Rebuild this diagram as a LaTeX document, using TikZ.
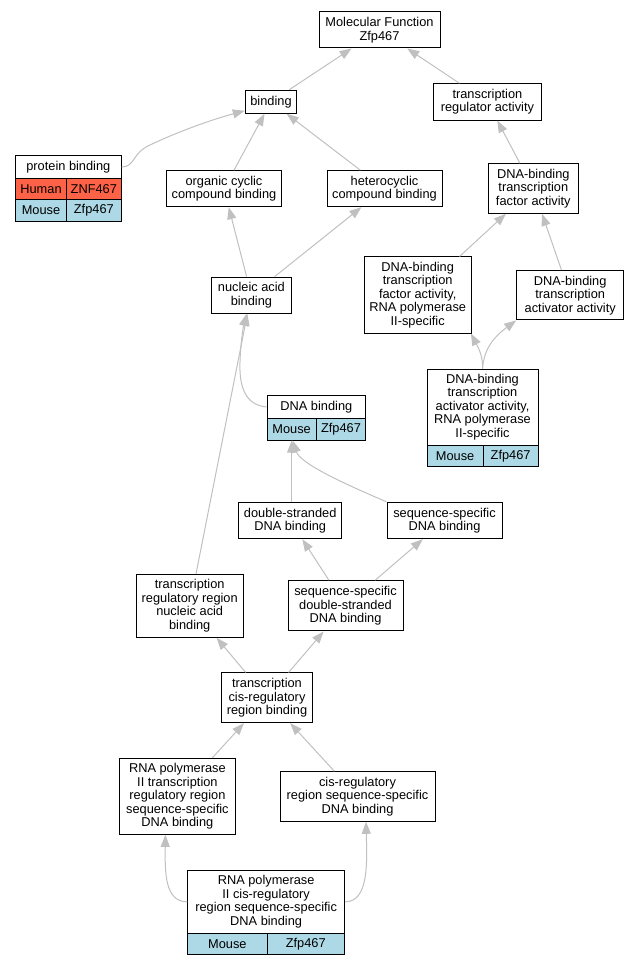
\documentclass[tikz,border=0pt]{standalone}
\usepackage{fontspec}
\setmainfont{Liberation Sans}
\usetikzlibrary{arrows.meta,calc}
\definecolor{edgegray}{RGB}{192,192,192}
\definecolor{humanred}{RGB}{255,99,71}
\definecolor{mouseblue}{RGB}{173,216,230}
\begin{document}
\begin{tikzpicture}[x=1pt,y=-1pt,
  box/.style={draw=black, line width=1pt, fill=white, inner sep=0pt, align=center, font=\fontsize{12.8}{13.5}\selectfont},
  cellh/.style={box, fill=humanred},
  cellm/.style={box, fill=mouseblue},
  edge/.style={draw=edgegray, line width=1pt, -{Triangle[length=12pt,width=9pt,fill=edgegray]}}]
\useasboundingbox (0,0) rectangle (639,965);

% nodes
\node[box, minimum width=121pt, minimum height=36pt] (mf) at (379.5,30) {Molecular Function\\Zfp467};
\node[box, minimum width=51.4pt, minimum height=23pt] (bind) at (271,101.8) {binding};
\node[box, minimum width=107.7pt, minimum height=36.3pt] (tra) at (487.4,101.9) {transcription\\regulator activity};

\node[box, minimum width=105.7pt, minimum height=22.6pt] (pb) at (68.35,167) {protein binding};
\node[cellh, minimum width=51pt, minimum height=21.5pt] (pbh1) at (41,189.05) {Human};
\node[cellh, minimum width=54.7pt, minimum height=21.5pt] (pbh2) at (93.85,189.05) {ZNF467};
\node[cellm, minimum width=51pt, minimum height=21.5pt] (pbm1) at (41,210.55) {Mouse};
\node[cellm, minimum width=54.7pt, minimum height=21.5pt] (pbm2) at (93.85,210.55) {Zfp467};

\node[box, minimum width=115pt, minimum height=36pt] (occ) at (224,188.7) {organic cyclic\\compound binding};
\node[box, minimum width=115pt, minimum height=36pt] (hcc) at (384.5,188.7) {heterocyclic\\compound binding};
\node[box, minimum width=89.4pt, minimum height=49.6pt] (dtf) at (533.3,188.5) {DNA-binding\\transcription\\factor activity};
\node[box, minimum width=79.2pt, minimum height=36.3pt] (nab) at (251.4,295.2) {nucleic acid\\binding};
\node[box, minimum width=107.4pt, minimum height=76pt] (dtf2) at (417.7,295) {DNA-binding\\transcription\\factor activity,\\RNA polymerase\\II-specific};
\node[box, minimum width=107pt, minimum height=49.3pt] (dta) at (570.2,295.3) {DNA-binding\\transcription\\activator activity};

\node[box, minimum width=98.7pt, minimum height=22.6pt] (dbh) at (316.35,407) {DNA binding};
\node[cellm, minimum width=49.3pt, minimum height=21.7pt] (dbm1) at (291.65,429.15) {Mouse};
\node[cellm, minimum width=49.4pt, minimum height=21.7pt] (dbm2) at (341,429.15) {Zfp467};

\node[box, minimum width=111pt, minimum height=76pt] (ata) at (482.5,407) {DNA-binding\\transcription\\activator activity,\\RNA polymerase\\II-specific};
\node[cellm, minimum width=56.3pt, minimum height=21.7pt] (atam1) at (455.15,455.85) {Mouse};
\node[cellm, minimum width=54.7pt, minimum height=21.7pt] (atam2) at (510.65,455.85) {Zfp467};

\node[box, minimum width=102.8pt, minimum height=36.4pt] (dsb) at (290.2,520.5) {double-stranded\\DNA binding};
\node[box, minimum width=115pt, minimum height=36.4pt] (ssb) at (444.5,520.5) {sequence-specific\\DNA binding};
\node[box, minimum width=107.3pt, minimum height=63pt] (trr) at (189.7,605.8) {transcription\\regulatory region\\nucleic acid\\binding};
\node[box, minimum width=115pt, minimum height=50.3pt] (ssd) at (345.5,605.8) {sequence-specific\\double-stranded\\DNA binding};
\node[box, minimum width=91.5pt, minimum height=49.7pt] (tcr) at (267,697.8) {transcription\\cis-regulatory\\region binding};
\node[box, minimum width=115.5pt, minimum height=76pt] (r2t) at (177.4,796.3) {RNA polymerase\\II transcription\\regulatory region\\sequence-specific\\DNA binding};
\node[box, minimum width=155pt, minimum height=49.6pt] (crs) at (357.5,796.5) {cis-regulatory\\region sequence-specific\\DNA binding};

\node[box, minimum width=156.7pt, minimum height=63pt] (bth) at (266.15,901.8) {RNA polymerase\\II cis-regulatory\\region sequence-specific\\DNA binding};
\node[cellm, minimum width=79.2pt, minimum height=21pt] (btm1) at (227.4,943.8) {Mouse};
\node[cellm, minimum width=77.5pt, minimum height=21pt] (btm2) at (305.75,943.8) {Zfp467};

% edges
\draw[edge] (bind) -- (mf);
\draw[edge] (tra) -- (mf);
\draw[edge] (pb.east) .. controls (135,167) and (132,153) .. (150,145) .. controls (175,133) and (210,120) .. ([yshift=3pt]bind.south west);
\draw[edge] (occ) -- (bind);
\draw[edge] (hcc) -- (bind);
\draw[edge] (dtf) -- (tra);
\draw[edge] (nab) -- (occ);
\draw[edge] (nab) -- (hcc);
\draw[edge] (dtf2) -- (dtf);
\draw[edge] (dta) -- (dtf);
\draw[edge] (ata.north) .. controls (483,357) and (479,349) .. ([xshift=-1pt]dtf2.south east);
\draw[edge] (ata.north) .. controls (484,348) and (495,336) .. (dta.south west);
\draw[edge] (dbh.west) .. controls (246,405) and (239,388) .. (240,362) .. controls (240.5,345) and (243,328) .. ([xshift=-5pt]nab.south);
\draw[edge] (trr) -- ([xshift=-4pt]nab.south);
\draw[edge] (dbm1.south |- dsb.north) -- (dbm1.south);
\draw[edge] (ssb.north west) .. controls (340,482) and (300,463) .. ([xshift=1pt]dbm1.south);
\draw[edge] (ssd) -- (dsb);
\draw[edge] (ssd) -- (ssb);
\draw[edge] (tcr) -- (trr);
\draw[edge] (tcr) -- (ssd);
\draw[edge] (r2t) -- (tcr);
\draw[edge] (crs) -- (tcr);
\draw[edge] (bth.west) .. controls (164,902) and (165,870) .. ([xshift=-12pt]r2t.south);
\draw[edge] (bth.east) .. controls (369,902) and (367,862) .. ([xshift=8.5pt]crs.south);
\end{tikzpicture}
\end{document}
